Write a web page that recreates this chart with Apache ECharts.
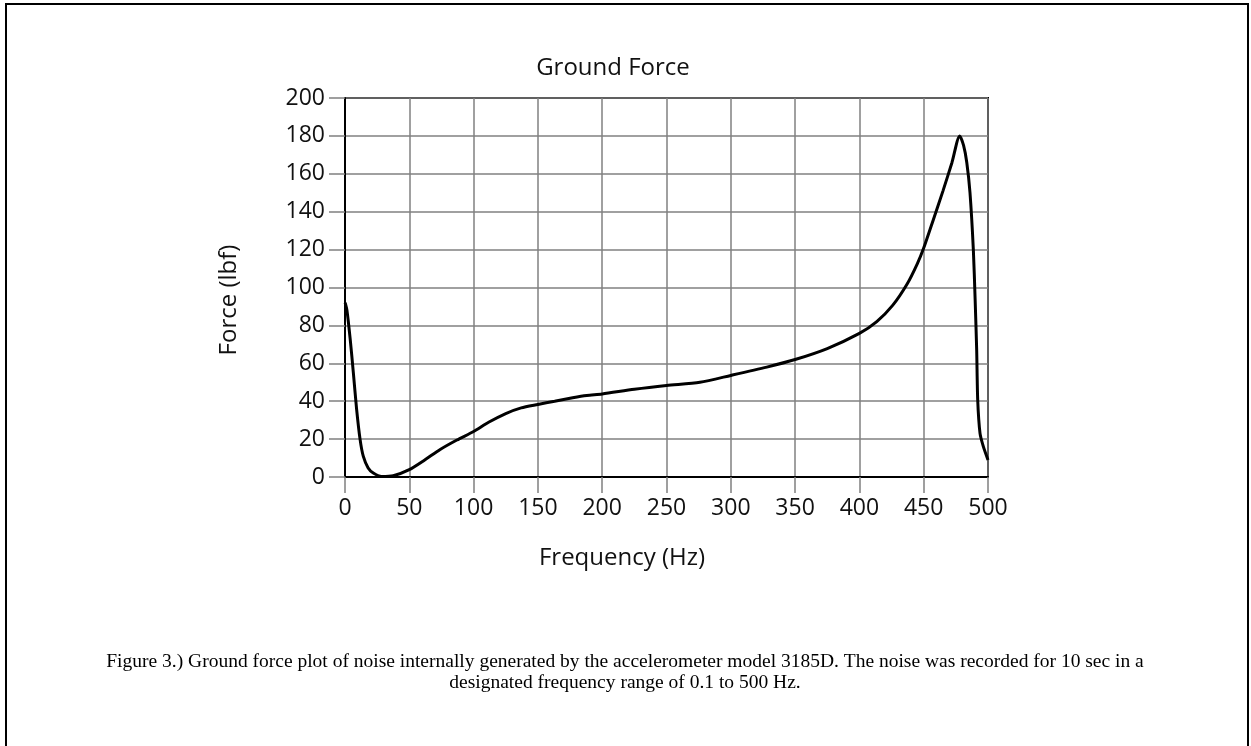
<!DOCTYPE html>
<html>
<head>
<meta charset="utf-8">
<title>Ground Force</title>
<script src="https://cdn.jsdelivr.net/npm/echarts@6/dist/echarts.min.js"></script>
<style>
    html, body { margin: 0; padding: 0; background: #fff; }
    #chart { position: absolute; left: 0; top: 0; width: 1251px; height: 746px; }
    /* page frame, bottom edge is cut off */
    #frame { position: absolute; left: 5px; top: 3px; right: 2px; bottom: 0;
             border-top: 2px solid #000; border-left: 2px solid #000; border-right: 2px solid #000; }
</style>
</head>
<body>
<div id="chart"></div>
<div id="frame"></div>
<script>
// frequency (Hz) and ground force (lbf)
var freq = [0.1, 1.5, 4, 6.5, 9, 11.7, 14.2, 18, 22, 28.5, 37.5, 50, 62, 74, 87, 100, 112, 125, 137, 150,
            163, 177, 188, 200, 225, 250, 276, 300, 328, 350, 375, 400, 413.5, 426, 437, 445, 450, 457.5,
            465, 472, 478, 481, 483.5, 486, 488.6, 490, 491.2, 492, 493.8, 496.4, 500];
var force = [92, 88, 73, 55, 36, 20, 11, 4.8, 2.1, 0.3, 0.7, 3.9, 9, 14.5, 19.5, 24, 29, 33.5, 36.5, 38.3,
             40, 41.8, 43, 43.8, 46.3, 48.3, 50, 53.6, 58, 62, 67.8, 75.8, 82, 90.7, 101.7, 112.5, 120.8, 135.8,
             151, 166, 180, 175, 166, 150, 120, 93.5, 67, 40.6, 23, 16, 9];

var xTicks = [0, 50, 100, 150, 200, 250, 300, 350, 400, 450, 500];
var yTicks = [0, 20, 40, 60, 80, 100, 120, 140, 160, 180, 200];

var captionLines = [
    'Figure 3.) Ground force plot of noise internally generated by the accelerometer model 3185D. The noise was recorded for 10 sec in a',
    'designated frequency range of 0.1 to 500 Hz.'
];

var sans = 'Open Sans';
var points = [];
for (var i = 0; i < freq.length; i++) {
    points.push([freq[i], force[i]]);
}

function axisStyle(ticks) {
    return {
        type: 'value',
        min: ticks[0],
        max: ticks[ticks.length - 1],
        interval: ticks[1] - ticks[0],
        axisLine: {show: true, lineStyle: {color: '#000', width: 2}},
        axisTick: {show: true, length: 16, lineStyle: {color: '#808080', width: 1.5}},
        axisLabel: {margin: 20, fontSize: 23, fontFamily: sans, color: '#111'},
        splitLine: {show: true, lineStyle: {color: '#808080', width: 1.5}}
    };
}

var chart = echarts.init(document.getElementById('chart'));
var option = {
    animation: false,
    backgroundColor: '#fff',
    title: {
        text: 'Ground Force',
        left: 613,
        top: 56,
        padding: 0,
        textAlign: 'center',
        textStyle: {fontSize: 24, fontWeight: 'normal', fontFamily: sans, color: '#111'}
    },
    grid: {left: 345, top: 98, right: 263, bottom: 269, show: true, borderColor: '#000', borderWidth: 2},
    xAxis: axisStyle(xTicks),
    yAxis: axisStyle(yTicks),
    series: [{
        type: 'line',
        data: points,
        symbol: 'none',
        smooth: 0.25,
        lineStyle: {color: '#000', width: 3}
    }],
    graphic: [
        {type: 'text', x: 622, y: 558,
         style: {text: 'Frequency (Hz)', fontSize: 24, fontFamily: sans, fill: '#111', align: 'center', verticalAlign: 'middle'}},
        {type: 'text', x: 229, y: 300, rotation: Math.PI / 2,
         style: {text: 'Force (lbf)', fontSize: 24, fontFamily: sans, fill: '#111', align: 'center', verticalAlign: 'middle'}},
        {type: 'text', x: 625, y: 672,
         style: {text: captionLines.join('\n'), fontSize: 19.5, lineHeight: 21, fontFamily: 'Liberation Serif',
                 fill: '#000', align: 'center', verticalAlign: 'middle'}}
    ]
};
chart.setOption(option);
</script>
</body>
</html>
